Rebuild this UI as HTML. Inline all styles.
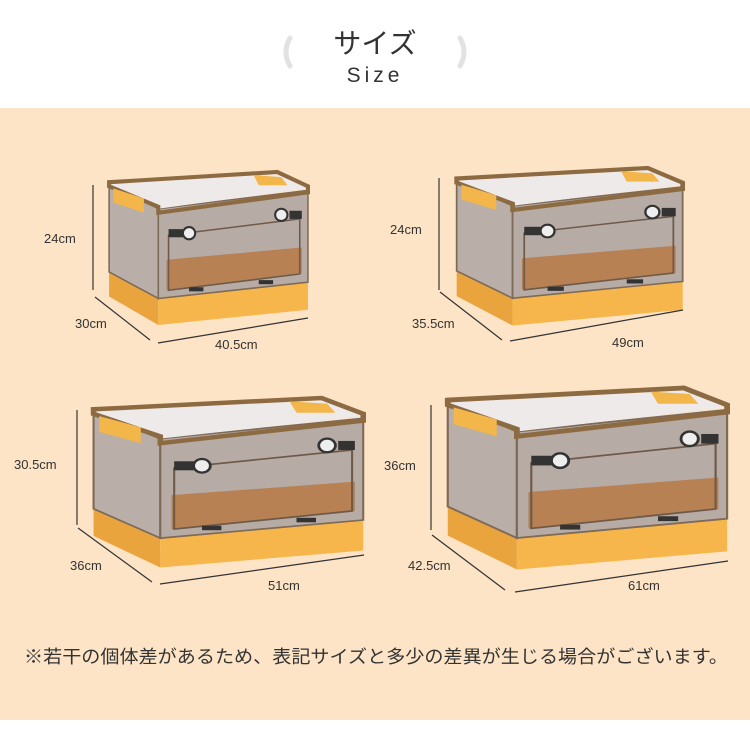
<!DOCTYPE html>
<html><head><meta charset="utf-8"><style>
html,body{margin:0;padding:0;background:#fff}
svg{display:block}
text{font-family:"Liberation Sans","Noto Sans CJK JP",sans-serif;fill:#333}
</style></head><body>
<svg width="750" height="750" viewBox="0 0 750 750" xmlns="http://www.w3.org/2000/svg">
<defs>
<g id="box">
  <polygon points="4,94 52,120 52,150 4,122" fill="#e9a43e"/>
  <polygon points="52,120 198,106 198,135 52,150" fill="#f6b64c"/>
  <polygon points="4,12 52,36 52,124 4,98" fill="#b9aea8" stroke="#7d6a58" stroke-width="1.5"/>
  <polygon points="52,36 198,18 198,108 52,124" fill="#b7aba6" stroke="#7d6a58" stroke-width="1.5"/>
  <polygon points="60,86 192,74 192,100 60,116" fill="#b88154"/>
  <polygon points="62,62 190,46 190,100 62,116" fill="none" stroke="#6e5a48" stroke-width="1.5"/>
  <polygon points="4,12 168,2 198,16 52,36" fill="#efeaea"/>
  <polygon points="4,10 168,0 198,14 198,20 52,40 52,34 4,14" fill="none" stroke="#8d6b42" stroke-width="4"/>
  <polygon points="8,16 38,26 38,40 8,30" fill="#f2b64a"/>
  <polygon points="145,3 172,5 178,13 150,13" fill="#f2b64a"/>
  <rect x="62" y="56" width="14" height="8" fill="#333"/>
  <circle cx="82" cy="60" r="6" fill="#eee" stroke="#333" stroke-width="2"/>
  <circle cx="172" cy="42" r="6" fill="#eee" stroke="#333" stroke-width="2"/>
  <rect x="180" y="38" width="12" height="8" fill="#333"/>
  <rect x="82" y="113" width="14" height="4" fill="#333"/>
  <rect x="150" y="106" width="14" height="4" fill="#333"/>
</g>
</defs>
<rect x="0" y="108" width="750" height="612" fill="#fde4c6"/>
<text x="375" y="53" font-size="28" text-anchor="middle" fill="#222">サイズ</text>
<text x="375" y="82" font-size="21" text-anchor="middle" letter-spacing="4" fill="#333">Size</text>
<path d="M290 38 Q282 52 290 66" stroke="#e2e2e2" stroke-width="5" fill="none" stroke-linecap="round"/>
<path d="M460 38 Q468 52 460 66" stroke="#e2e2e2" stroke-width="5" fill="none" stroke-linecap="round"/>

<use href="#box" transform="translate(105,172) scale(1.025,1.02)"/>
<use href="#box" transform="translate(452,168) scale(1.165,1.05)"/>
<use href="#box" transform="translate(88,398) scale(1.39,1.13)"/>
<use href="#box" transform="translate(442,388) scale(1.44,1.21)"/>

<g stroke="#333" stroke-width="1.2">
<line x1="93" y1="185" x2="93" y2="290"/>
<line x1="95" y1="297" x2="150" y2="340"/>
<line x1="158" y1="343" x2="308" y2="318"/>
<line x1="439" y1="178" x2="439" y2="290"/>
<line x1="440" y1="292" x2="502" y2="340"/>
<line x1="510" y1="341" x2="683" y2="310"/>
<line x1="77" y1="410" x2="77" y2="525"/>
<line x1="78" y1="528" x2="152" y2="582"/>
<line x1="160" y1="584" x2="364" y2="555"/>
<line x1="431" y1="405" x2="431" y2="530"/>
<line x1="432" y1="535" x2="505" y2="590"/>
<line x1="515" y1="592" x2="728" y2="561"/>
</g>
<g font-size="13">
<text x="44" y="243">24cm</text>
<text x="75" y="328">30cm</text>
<text x="215" y="349">40.5cm</text>
<text x="390" y="234">24cm</text>
<text x="412" y="328">35.5cm</text>
<text x="612" y="347">49cm</text>
<text x="14" y="469">30.5cm</text>
<text x="70" y="570">36cm</text>
<text x="268" y="590">51cm</text>
<text x="384" y="470">36cm</text>
<text x="408" y="570">42.5cm</text>
<text x="628" y="590">61cm</text>
</g>
<text x="24" y="663" font-size="18" fill="#444" textLength="704" lengthAdjust="spacingAndGlyphs">※若干の個体差があるため、表記サイズと多少の差異が生じる場合がございます。</text>
</svg>
</body></html>
